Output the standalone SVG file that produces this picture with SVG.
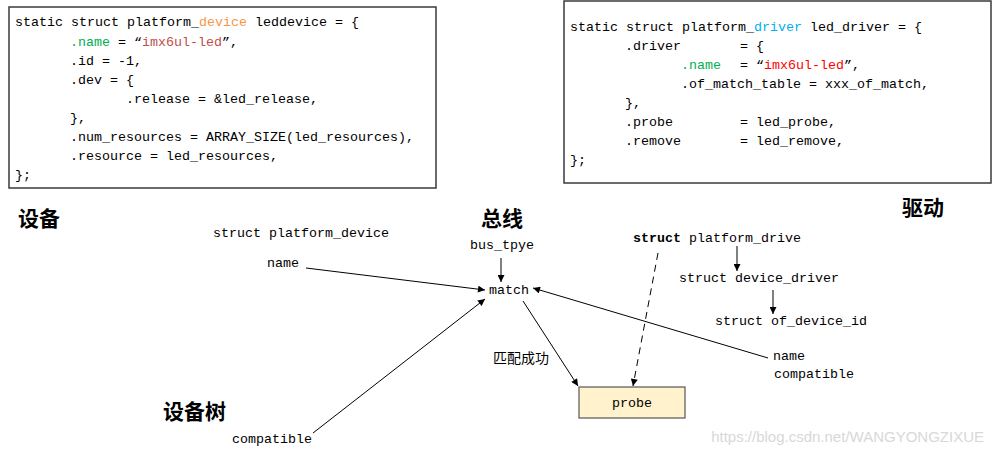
<svg xmlns="http://www.w3.org/2000/svg" width="994" height="455" viewBox="0 0 994 455">
<defs>
<style>
.m{font-family:"Liberation Mono","DejaVu Sans Mono",monospace;font-size:13.33px;fill:#000}
.cn{font-family:"Noto Sans CJK SC","Noto Sans",sans-serif;font-weight:bold;font-size:21px;fill:#000}
.cs{font-family:"Noto Sans CJK SC","Noto Sans",sans-serif;font-size:14px;fill:#000}
.box{fill:#fff;stroke:#3a3a3a;stroke-width:1.5}
.ln{stroke:#000;stroke-width:1;fill:none}
.or{fill:#f79646}.gr{fill:#00b050}.rb{fill:#c0504d}.rd{fill:#ff0000}.bl{fill:#00b0f0}
</style>
<marker id="ah" viewBox="0 0 10 10" refX="10" refY="5" markerWidth="8" markerHeight="7" markerUnits="userSpaceOnUse" orient="auto">
<path d="M0,0 L10,5 L0,10 z" fill="#000"/>
</marker>
</defs>
<rect width="994" height="455" fill="#fff"/>

<g id="device-code">
<rect class="box" x="9" y="7" width="427" height="181"/>
<text class="m" x="15" y="26">static struct platform_<tspan class="or">device</tspan> leddevice = {</text>
<text class="m" x="70" y="45.5"><tspan class="gr">.name</tspan> = “<tspan class="rb">imx6ul-led</tspan>”,</text>
<text class="m" x="70" y="64.5">.id = -1,</text>
<text class="m" x="70" y="83.5">.dev = {</text>
<text class="m" x="126" y="102.5">.release = &amp;led_release,</text>
<text class="m" x="70" y="121.5">},</text>
<text class="m" x="70" y="141">.num_resources = ARRAY_SIZE(led_resources),</text>
<text class="m" x="70" y="160">.resource = led_resources,</text>
<text class="m" x="15" y="179">};</text>
</g>

<g id="driver-code">
<rect class="box" x="564" y="1" width="427" height="182"/>
<text class="m" x="570" y="30.5">static struct platform_<tspan class="bl">driver</tspan> led_driver = {</text>
<text class="m" x="625" y="49.5">.driver<tspan x="740">= {</tspan></text>
<text class="m" x="681" y="68.5"><tspan class="gr">.name</tspan><tspan x="740">= “</tspan><tspan class="rd">imx6ul-led</tspan>”,</text>
<text class="m" x="681" y="87.5">.of_match_table = xxx_of_match,</text>
<text class="m" x="625" y="107">},</text>
<text class="m" x="625" y="126">.probe<tspan x="740">= led_probe,</tspan></text>
<text class="m" x="625" y="145">.remove<tspan x="740">= led_remove,</tspan></text>
<text class="m" x="570" y="164">};</text>
</g>

<g id="titles">
<text class="cn" x="18" y="226">设备</text>
<text class="cn" x="481" y="226">总线</text>
<text class="cn" x="902" y="215">驱动</text>
<text class="cn" x="163" y="419">设备树</text>
</g>

<g id="device-side">
<text class="m" x="213" y="237">struct platform_device</text>
<text class="m" x="267" y="267">name</text>
<text class="m" x="232" y="443">compatible</text>
</g>

<g id="bus">
<text class="m" x="470" y="249">bus_tpye</text>
<text class="m" x="489" y="294">match</text>
<text class="cs" x="493" y="363">匹配成功</text>
</g>

<g id="driver-side">
<text class="m" x="633" y="242"><tspan font-weight="bold">struct</tspan> platform_drive</text>
<text class="m" x="679" y="282">struct device_driver</text>
<text class="m" x="715" y="325">struct of_device_id</text>
<text class="m" x="773" y="360">name</text>
<text class="m" x="774" y="378">compatible</text>
</g>

<g id="probe">
<rect x="579" y="387" width="106" height="31" fill="#fff2cc" stroke="#555" stroke-width="1.2"/>
<text class="m" x="632" y="407" text-anchor="middle">probe</text>
</g>

<g id="connectors">
<line class="ln" x1="306" y1="268" x2="485" y2="290" marker-end="url(#ah)"/>
<line class="ln" x1="313" y1="433" x2="485" y2="299" marker-end="url(#ah)"/>
<line class="ln" x1="501" y1="258" x2="501" y2="282" marker-end="url(#ah)"/>
<line class="ln" x1="768" y1="358" x2="533" y2="288" marker-end="url(#ah)"/>
<line class="ln" x1="523" y1="301" x2="578" y2="386" marker-end="url(#ah)"/>
<line class="ln" x1="658" y1="253" x2="633" y2="386" stroke-dasharray="7,5" marker-end="url(#ah)"/>
<line class="ln" x1="737" y1="246" x2="737" y2="271" marker-end="url(#ah)"/>
<line class="ln" x1="773" y1="290" x2="773" y2="314" marker-end="url(#ah)"/>
</g>

<text x="984" y="442" text-anchor="end" font-family="Liberation Sans,Arial,sans-serif" font-size="15" fill="#d8d8d8">https://blog.csdn.net/WANGYONGZIXUE</text>
</svg>
